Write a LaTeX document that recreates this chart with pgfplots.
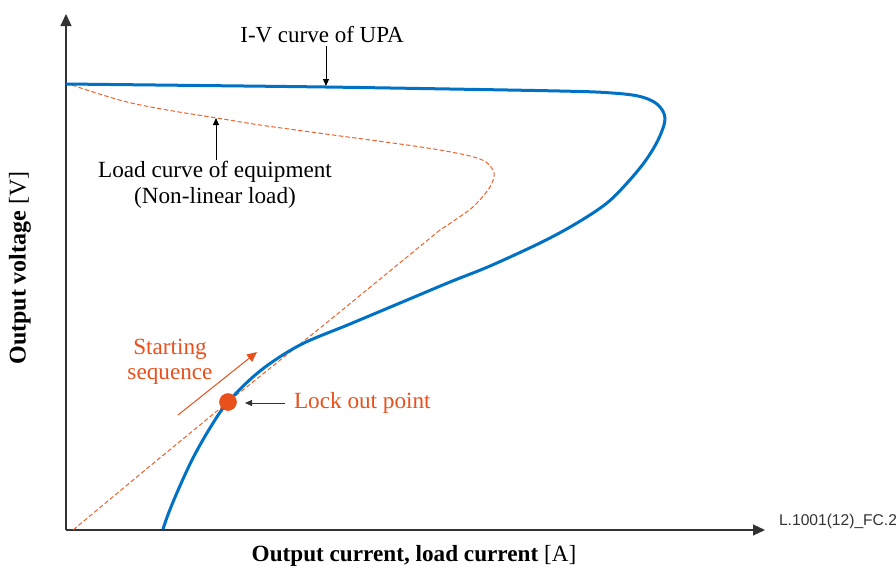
\documentclass[border=0pt]{standalone}
\usepackage{pgfplots}
\pgfplotsset{compat=1.18}
\usepackage{fontspec}
\setmainfont{Liberation Serif}
\newfontfamily\arial{Liberation Sans}
\usetikzlibrary{arrows.meta}
\definecolor{upablue}{RGB}{0,114,198}
\definecolor{loadorange}{RGB}{240,96,40}
\definecolor{txtorange}{RGB}{232,80,28}
\definecolor{axgray}{RGB}{50,50,50}
\begin{document}
\begin{tikzpicture}
\begin{axis}[scale only axis, width=448pt, height=284.5pt,
  xmin=0, xmax=896, ymin=0, ymax=569, y dir=reverse,
  hide axis, clip=false]
\coordinate (BL) at (axis cs:0,569);
\coordinate (TR) at (axis cs:896,0);
% axes
\draw[axgray, line width=0.55pt, -{Triangle[length=6pt,width=5.5pt]}] (axis cs:66,530) -- (axis cs:66,14);
\draw[axgray, line width=0.55pt, -{Triangle[length=6pt,width=5.5pt]}] (axis cs:66,530) -- (axis cs:765,530);
% load curve
\addplot[loadorange, line width=0.5pt, dash pattern=on 2.2pt off 1.2pt, smooth, tension=0.5] coordinates {
(72,85) (93,92) (127,102) (167,110) (217,118) (260,125) (333,135) (400,144) (440,150) (470,156) (486,162) (494,173) (490,187) (474,206) (455,220) (440,230)
};
\addplot[loadorange, line width=0.5pt, dash pattern=on 2.2pt off 1.2pt] coordinates {
(440,230) (330,320) (228,402) (150,466) (73,530)
};
% UPA curve
\addplot[upablue, line width=1.5pt, smooth, tension=0.55] coordinates {
(66,84) (200,85.5) (326,87) (450,89) (560,91) (605,92.5) (638,96) (657,104) (665,118) (659,138) (646,160) (628,182) (607,203) (577,223) (542,242) (490,266) (450,282) (400,303) (350,324) (300,345) (260,371) (228,402) (210,428) (193,458) (179,488) (169,512) (163,529)
};
% lock out point
\addplot[only marks, mark=*, mark size=4.2pt, color=txtorange] coordinates {(228,402)};
% annotations
\node[font=\fontsize{11.5pt}{13pt}\selectfont] at (axis cs:322,35) {I-V curve of UPA};
\draw[black, line width=0.4pt, -{Triangle[length=3.5pt,width=3pt]}] (axis cs:326,46) -- (axis cs:326,86);
\node[font=\fontsize{11.6pt}{13.2pt}\selectfont, align=center] at (axis cs:215,185) {Load curve of equipment\\(Non-linear load)};
\draw[black, line width=0.4pt, -{Triangle[length=3.5pt,width=3pt]}] (axis cs:216,160) -- (axis cs:216,118);
\node[font=\fontsize{11.6pt}{12.5pt}\selectfont, align=center, text=txtorange] at (axis cs:170,362) {Starting\\sequence};
\draw[txtorange, line width=0.5pt, -{Triangle[length=5pt,width=4.5pt]}] (axis cs:178,415) -- (axis cs:257,352);
\node[font=\fontsize{11.6pt}{13pt}\selectfont, text=txtorange, anchor=west] at (axis cs:287,403) {Lock out point};
\draw[axgray, line width=0.4pt, -{Triangle[length=3.5pt,width=3pt]}] (axis cs:285,403) -- (axis cs:245,403);
% axis labels
\node[font=\fontsize{11.6pt}{13pt}\selectfont] at (axis cs:414,556) {\textbf{Output current, load current} [A]};
\node[font=\fontsize{12pt}{13pt}\selectfont, rotate=90] at (axis cs:20,268) {\textbf{Output voltage} [V]};
\node[font=\arial\fontsize{7.8pt}{9pt}\selectfont, anchor=west, axgray] at (axis cs:772,521) {L.1001(12)\_FC.2};
\end{axis}
\pgfresetboundingbox
\path (BL) rectangle (TR);
\end{tikzpicture}
\end{document}
